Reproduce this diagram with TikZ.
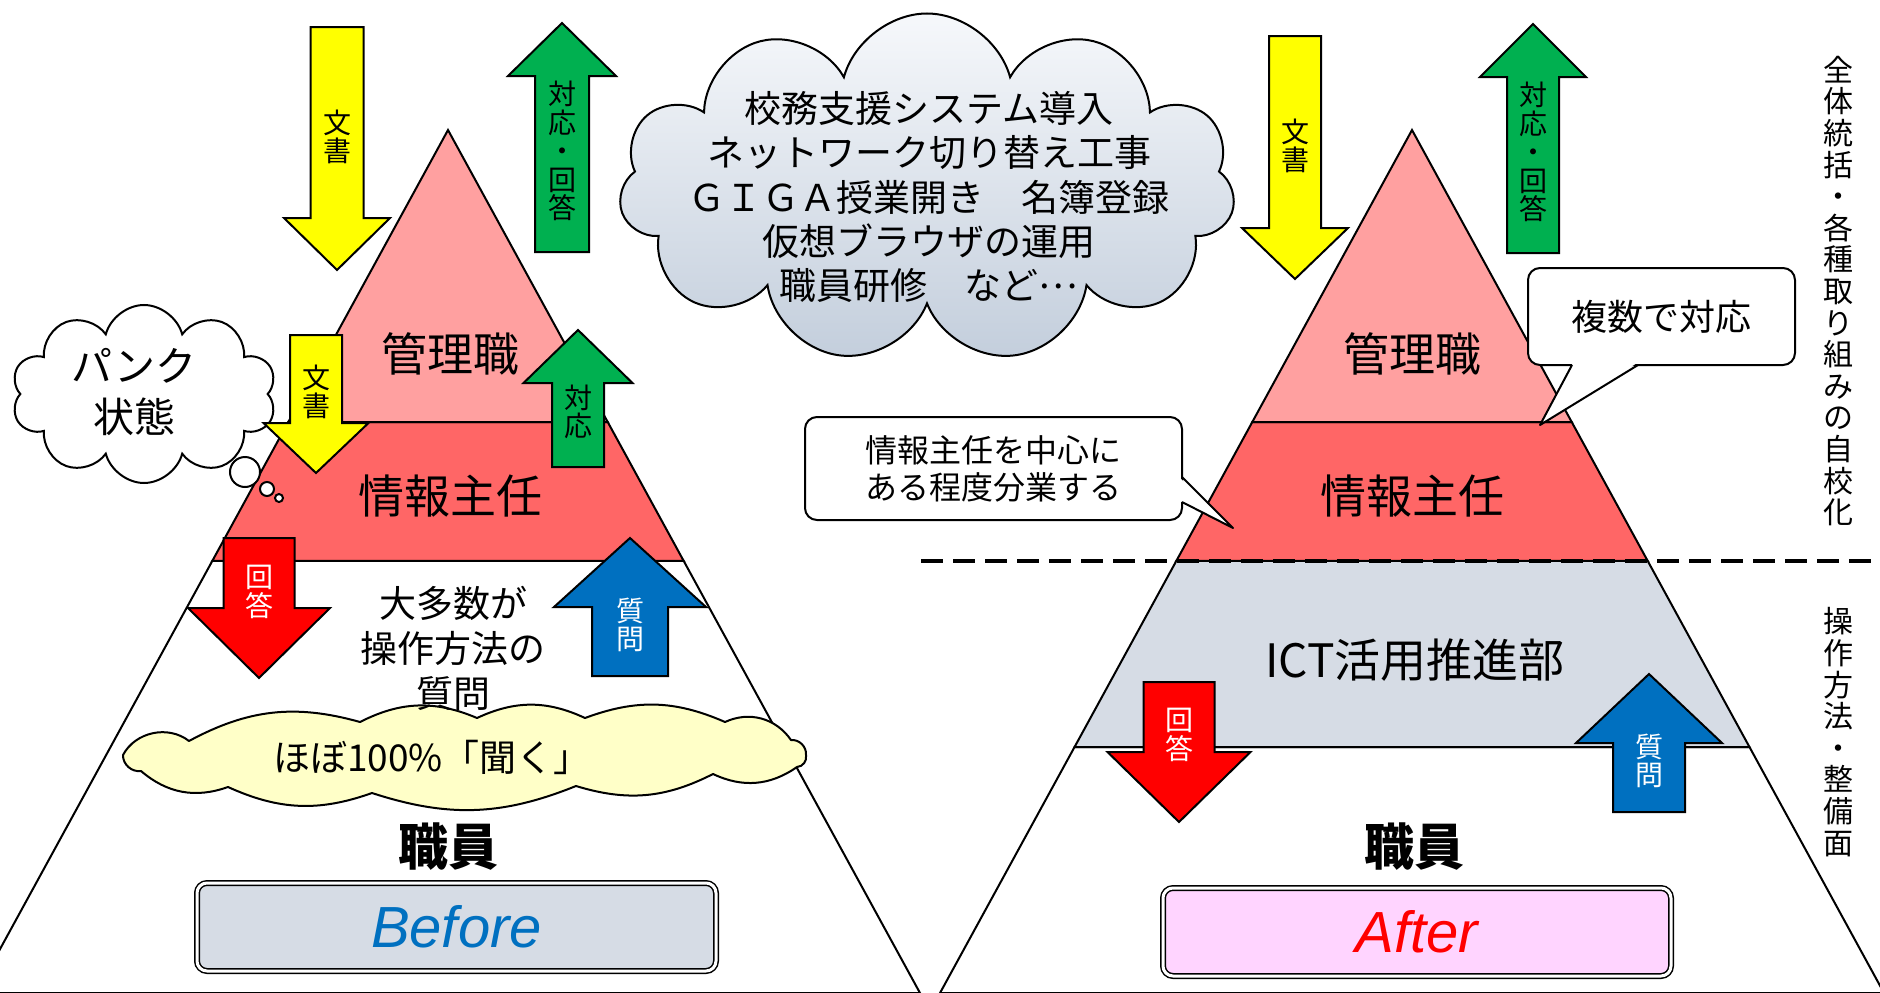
\documentclass[tikz,border=0pt]{standalone}
\usepackage{fontspec}
\setmainfont{Noto Sans CJK JP}
\newfontfamily\latinfont{Liberation Sans}
\usetikzlibrary{calc,shapes.symbols}

\definecolor{bosspink}{RGB}{255,160,160}
\definecolor{leadred}{RGB}{255,102,102}
\definecolor{ictgray}{RGB}{214,220,229}
\definecolor{docyellow}{RGB}{255,255,0}
\definecolor{replygreen}{RGB}{0,176,80}
\definecolor{answerred}{RGB}{255,0,0}
\definecolor{askblue}{RGB}{0,112,192}
\definecolor{hearyellow}{RGB}{255,255,200}
\definecolor{cloudtop}{RGB}{246,248,251}
\definecolor{cloudbottom}{RGB}{195,206,220}
\definecolor{afterfill}{RGB}{255,212,255}

% fill, x, tail y, head base y, tip y, shaft half width, head half width
\newcommand{\blockarrow}[7]{%
  \draw[arrowline, fill=#1] ({#2-#6},#3) -- ({#2-#6},#4) -- ({#2-#7},#4)
    -- (#2,#5) -- ({#2+#7},#4) -- ({#2+#6},#4) -- ({#2+#6},#3) -- cycle;}

\begin{document}
\begin{tikzpicture}[x=1pt, y=-1pt,
  pyr/.style={draw=black, line width=2pt},
  arrowline/.style={draw=black, line width=2pt},
  arrowtext/.style={font=\fontsize{28}{28.4}\selectfont, align=center, inner sep=0pt},
  bandtext/.style={font=\fontsize{46}{46}\selectfont, inner sep=0pt},
  bubble/.style={cloud, draw=black, line width=2pt, cloud ignores aspect, inner sep=0pt},
  callout/.style={draw=black, fill=white, line width=2pt, rounded corners=12pt},
  stage/.style={draw=black, line width=1.5pt, double=white, double distance=3pt,
    rounded corners=10pt, minimum height=88pt},
  sidetext/.style={font=\fontsize{30}{31.6}\selectfont, align=center, inner sep=0pt}]
	\useasboundingbox (0,0) rectangle (1880,993);
	\fill[white] (0,0) rectangle (1880,993);

	% Before pyramid
	\coordinate (LA) at (448,130);
	\coordinate (LL) at (-24,993);
	\coordinate (LR) at (920,993);
	\coordinate (L1l) at ($(LA)!0.3384!(LL)$);
	\coordinate (L1r) at ($(LA)!0.3384!(LR)$);
	\coordinate (L2l) at ($(LA)!0.4994!(LL)$);
	\coordinate (L2r) at ($(LA)!0.4994!(LR)$);
	\draw[pyr, fill=white] (L2l) -- (L2r) -- (LR) -- (LL) -- cycle;
	\draw[pyr, fill=leadred] (L1l) -- (L1r) -- (L2r) -- (L2l) -- cycle;
	\draw[pyr, fill=bosspink] (LA) -- (L1r) -- (L1l) -- cycle;

	% After pyramid
	\coordinate (RA) at (1412,130);
	\coordinate (RL) at (940,993);
	\coordinate (RR) at (1884,993);
	\coordinate (R1l) at ($(RA)!0.3384!(RL)$);
	\coordinate (R1r) at ($(RA)!0.3384!(RR)$);
	\coordinate (R2l) at ($(RA)!0.4994!(RL)$);
	\coordinate (R2r) at ($(RA)!0.4994!(RR)$);
	\coordinate (R3l) at ($(RA)!0.7150!(RL)$);
	\coordinate (R3r) at ($(RA)!0.7150!(RR)$);
	\draw[pyr, fill=white] (R3l) -- (R3r) -- (RR) -- (RL) -- cycle;
	\draw[pyr, fill=ictgray] (R2l) -- (R2r) -- (R3r) -- (R3l) -- cycle;
	\draw[pyr, fill=leadred] (R1l) -- (R1r) -- (R2r) -- (R2l) -- cycle;
	\draw[pyr, fill=bosspink] (RA) -- (R1r) -- (R1l) -- cycle;

	\node[bandtext] (bossL) at (450,354) {管理職};
	\node[bandtext] (leadL) at (450,496) {情報主任};
	\node[bandtext] (bossR) at (1412,354) {管理職};
	\node[bandtext] (leadR) at (1412,496) {情報主任};
	\node[bandtext] (ictR) at (1415,660) {ICT活用推進部};

	% bubbles
	\node[bubble, fill=white, cloud puffs=10, minimum width=265pt, minimum height=178pt] (punk) at (144,394) {};
	\node[font=\fontsize{41}{51}\selectfont, align=center, inner sep=0pt] (punkT) at (134,392) {パンク\\状態};
	\draw[line width=2pt, fill=white] (245,472) circle (15);
	\draw[line width=2pt, fill=white] (267,489) circle (7);
	\draw[line width=2pt, fill=white] (279,498) circle (4);

	\node[bubble, top color=cloudtop, bottom color=cloudbottom, cloud puffs=11,
	  minimum width=616pt, minimum height=349pt] (tasks) at (927,188) {};
	\node[font=\fontsize{37}{44.3}\selectfont, align=center, inner sep=0pt] (tasksT) at (929,197)
	  {校務支援システム導入\\ネットワーク切り替え工事\\ＧＩＧＡ授業開き　名簿登録\\仮想ブラウザの運用\\職員研修　など\raisebox{0.3em}{…}};

	\draw[line width=2pt, fill=hearyellow, line join=round]
	  (123,755) to[bend left=50] (189,741) to[bend left=22] (360,722) to[bend left=25] (477,718)
	  to[bend left=25] (585,718) to[bend left=22] (725,722) to[bend left=40] (791,740)
	  to[bend left=50] (806,755) to[bend left=50] (797,767) to[bend left=30] (713,774)
	  to[bend left=22] (576,786) to[bend left=20] (372,793) to[bend left=22] (228,787)
	  to[bend left=30] (141,771) to[bend left=50] (123,755) -- cycle;
	\node[font=\fontsize{37}{37}\selectfont, inner sep=0pt] (hearT) at (432,757) {ほぼ100\%「聞く」};

	% arrows, Before
	\blockarrow{docyellow}{337}{27}{218}{270}{26.5}{53}
	\blockarrow{replygreen}{562}{252}{76}{23}{27}{54}
	\blockarrow{docyellow}{316}{335}{423}{473}{26}{52.5}
	\blockarrow{replygreen}{578}{467}{383}{330}{26}{54.5}
	\blockarrow{answerred}{259}{538}{608}{678}{35.5}{71}
	\blockarrow{askblue}{630}{676}{607}{538}{38}{76}
	\node[arrowtext] (docL1) at (337,137) {文\\書};
	\node[arrowtext] (replyL1) at (562,151) {対\\応\\・\\回\\答};
	\node[arrowtext] (docL2) at (316,392) {文\\書};
	\node[arrowtext] (replyL2) at (578,412) {対\\応};
	\node[arrowtext, text=white] (answerL) at (259,592) {回\\答};
	\node[arrowtext, text=white] (askL) at (630,625) {質\\問};

	% arrows, After
	\blockarrow{docyellow}{1295}{36}{228}{279}{26}{53}
	\blockarrow{replygreen}{1533}{253}{77}{24}{26}{53}
	\blockarrow{answerred}{1179}{682}{752}{822}{35.5}{71.5}
	\blockarrow{askblue}{1649}{812}{743}{674}{36}{73}
	\node[arrowtext] (docR) at (1295,146) {文\\書};
	\node[arrowtext] (replyR) at (1533,152) {対\\応\\・\\回\\答};
	\node[arrowtext, text=white] (answerR) at (1179,735) {回\\答};
	\node[arrowtext, text=white] (askR) at (1649,761) {質\\問};

	\node[font=\fontsize{37}{45}\selectfont, align=center, inner sep=0pt] (manyQ) at (453,648) {大多数が\\操作方法の\\質問};

	% callouts
	\node[callout, minimum width=267pt, minimum height=97pt, font=\fontsize{36}{36}\selectfont] (multi) at (1661.5,316.5) {複数で対応};
	\fill[white] (1573,363) -- (1540,425) -- (1637,363) -- cycle;
	\draw[line width=2pt, line join=round] (1572,365) -- (1540,425) -- (1638,365);
	\node[callout, minimum width=377pt, minimum height=103pt, align=center,
	  font=\fontsize{32}{37}\selectfont] (share) at (993.5,468.5) {情報主任を中心に\\ある程度分業する};
	\fill[white] (1180,478) -- (1233,528) -- (1180,501) -- cycle;
	\draw[line width=2pt, line join=round] (1182,477) -- (1233,528) -- (1182,502);

	% divider
	\coordinate (dashL) at (921,561);
	\coordinate (dashR) at (1880,561);
	\draw[line width=3.5pt, dash pattern=on 22pt off 10pt] (dashL) -- (dashR);

	\node[sidetext] (scopeT) at (1838,291) {全\\体\\統\\括\\・\\各\\種\\取\\り\\組\\み\\の\\自\\校\\化};
	\node[sidetext] (opsT) at (1838,732) {操\\作\\方\\法\\・\\整\\備\\面};

	% staff and stage labels
	\node[font=\bfseries\fontsize{50}{50}\selectfont, inner sep=0pt] (staffL) at (448,847) {職員};
	\node[font=\bfseries\fontsize{50}{50}\selectfont, inner sep=0pt] (staffR) at (1414,847) {職員};
	\node[stage, fill=ictgray, minimum width=519pt, text=askblue,
	  font=\latinfont\itshape\fontsize{58}{58}\selectfont] (before) at (456.5,927) {Before};
	\node[stage, fill=afterfill, minimum width=508pt, text=answerred,
	  font=\latinfont\itshape\fontsize{58}{58}\selectfont] (after) at (1417,932) {After};
\end{tikzpicture}
\end{document}
